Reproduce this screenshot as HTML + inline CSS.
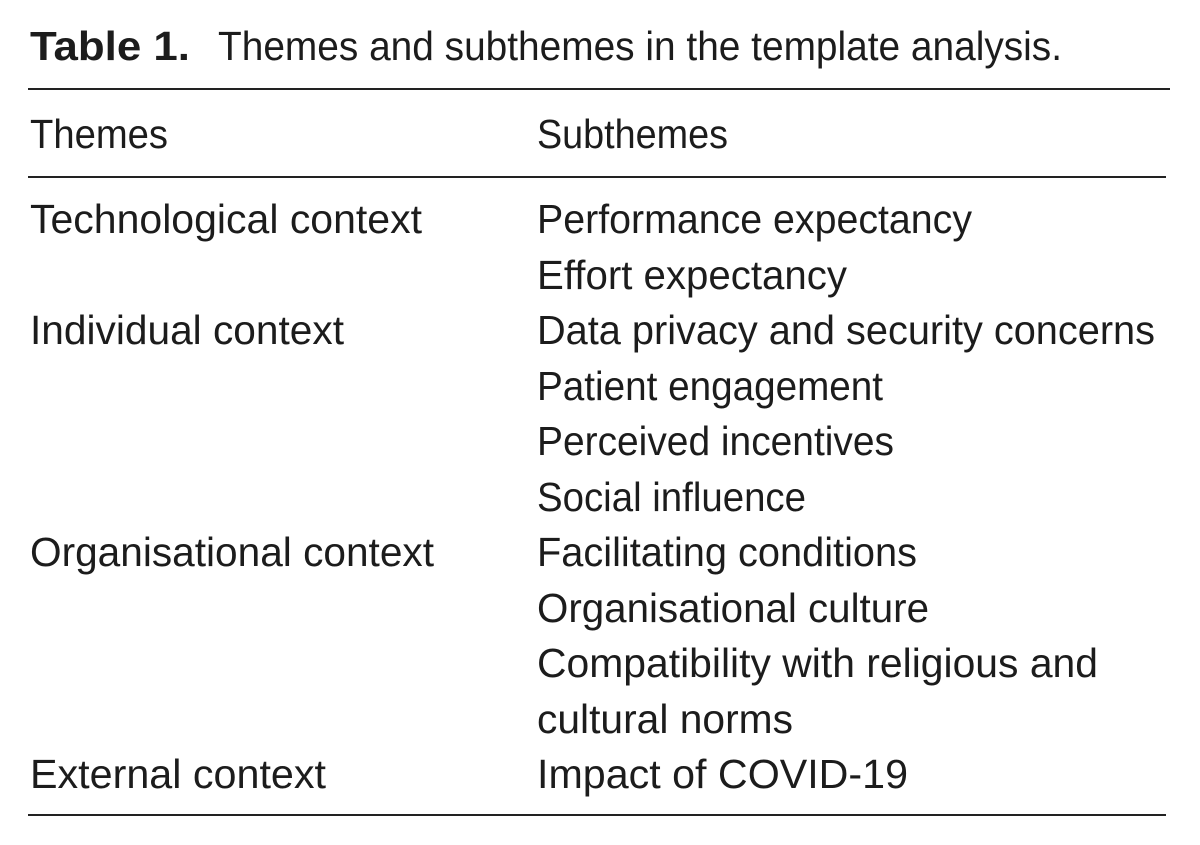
<!DOCTYPE html>
<html><head><meta charset="utf-8"><style>
html,body{margin:0;padding:0;background:#fff;width:1200px;height:845px;overflow:hidden}
svg text{font-family:"Liberation Sans",sans-serif;font-size:41px;fill:#1c1c1c}
</style></head><body>
<svg width="1200" height="845" viewBox="0 0 1200 845" xmlns="http://www.w3.org/2000/svg">
<text x="30" y="60" font-weight="bold" textLength="160" lengthAdjust="spacingAndGlyphs">Table 1.</text>
<text x="218" y="60" textLength="844" lengthAdjust="spacingAndGlyphs">Themes and subthemes in the template analysis.</text>
<rect x="28" y="88" width="1142" height="2" fill="#222"/>
<text x="30" y="148" textLength="138" lengthAdjust="spacingAndGlyphs">Themes</text>
<text x="537" y="148" textLength="191" lengthAdjust="spacingAndGlyphs">Subthemes</text>
<rect x="28" y="176" width="1138" height="2" fill="#222"/>
<text x="30" y="233" textLength="392" lengthAdjust="spacingAndGlyphs">Technological context</text>
<text x="537" y="233" textLength="435" lengthAdjust="spacingAndGlyphs">Performance expectancy</text>
<text x="537" y="289" textLength="310" lengthAdjust="spacingAndGlyphs">Effort expectancy</text>
<text x="30" y="344" textLength="314" lengthAdjust="spacingAndGlyphs">Individual context</text>
<text x="537" y="344" textLength="618" lengthAdjust="spacingAndGlyphs">Data privacy and security concerns</text>
<text x="537" y="400" textLength="346" lengthAdjust="spacingAndGlyphs">Patient engagement</text>
<text x="537" y="455" textLength="357" lengthAdjust="spacingAndGlyphs">Perceived incentives</text>
<text x="537" y="511" textLength="269" lengthAdjust="spacingAndGlyphs">Social influence</text>
<text x="30" y="566" textLength="404" lengthAdjust="spacingAndGlyphs">Organisational context</text>
<text x="537" y="566" textLength="380" lengthAdjust="spacingAndGlyphs">Facilitating conditions</text>
<text x="537" y="622" textLength="392" lengthAdjust="spacingAndGlyphs">Organisational culture</text>
<text x="537" y="677" textLength="561" lengthAdjust="spacingAndGlyphs">Compatibility with religious and</text>
<text x="537" y="733" textLength="256" lengthAdjust="spacingAndGlyphs">cultural norms</text>
<text x="30" y="788" textLength="296" lengthAdjust="spacingAndGlyphs">External context</text>
<text x="537" y="788" textLength="371" lengthAdjust="spacingAndGlyphs">Impact of COVID-19</text>
<rect x="28" y="814" width="1138" height="2" fill="#222"/>
</svg>
</body></html>
